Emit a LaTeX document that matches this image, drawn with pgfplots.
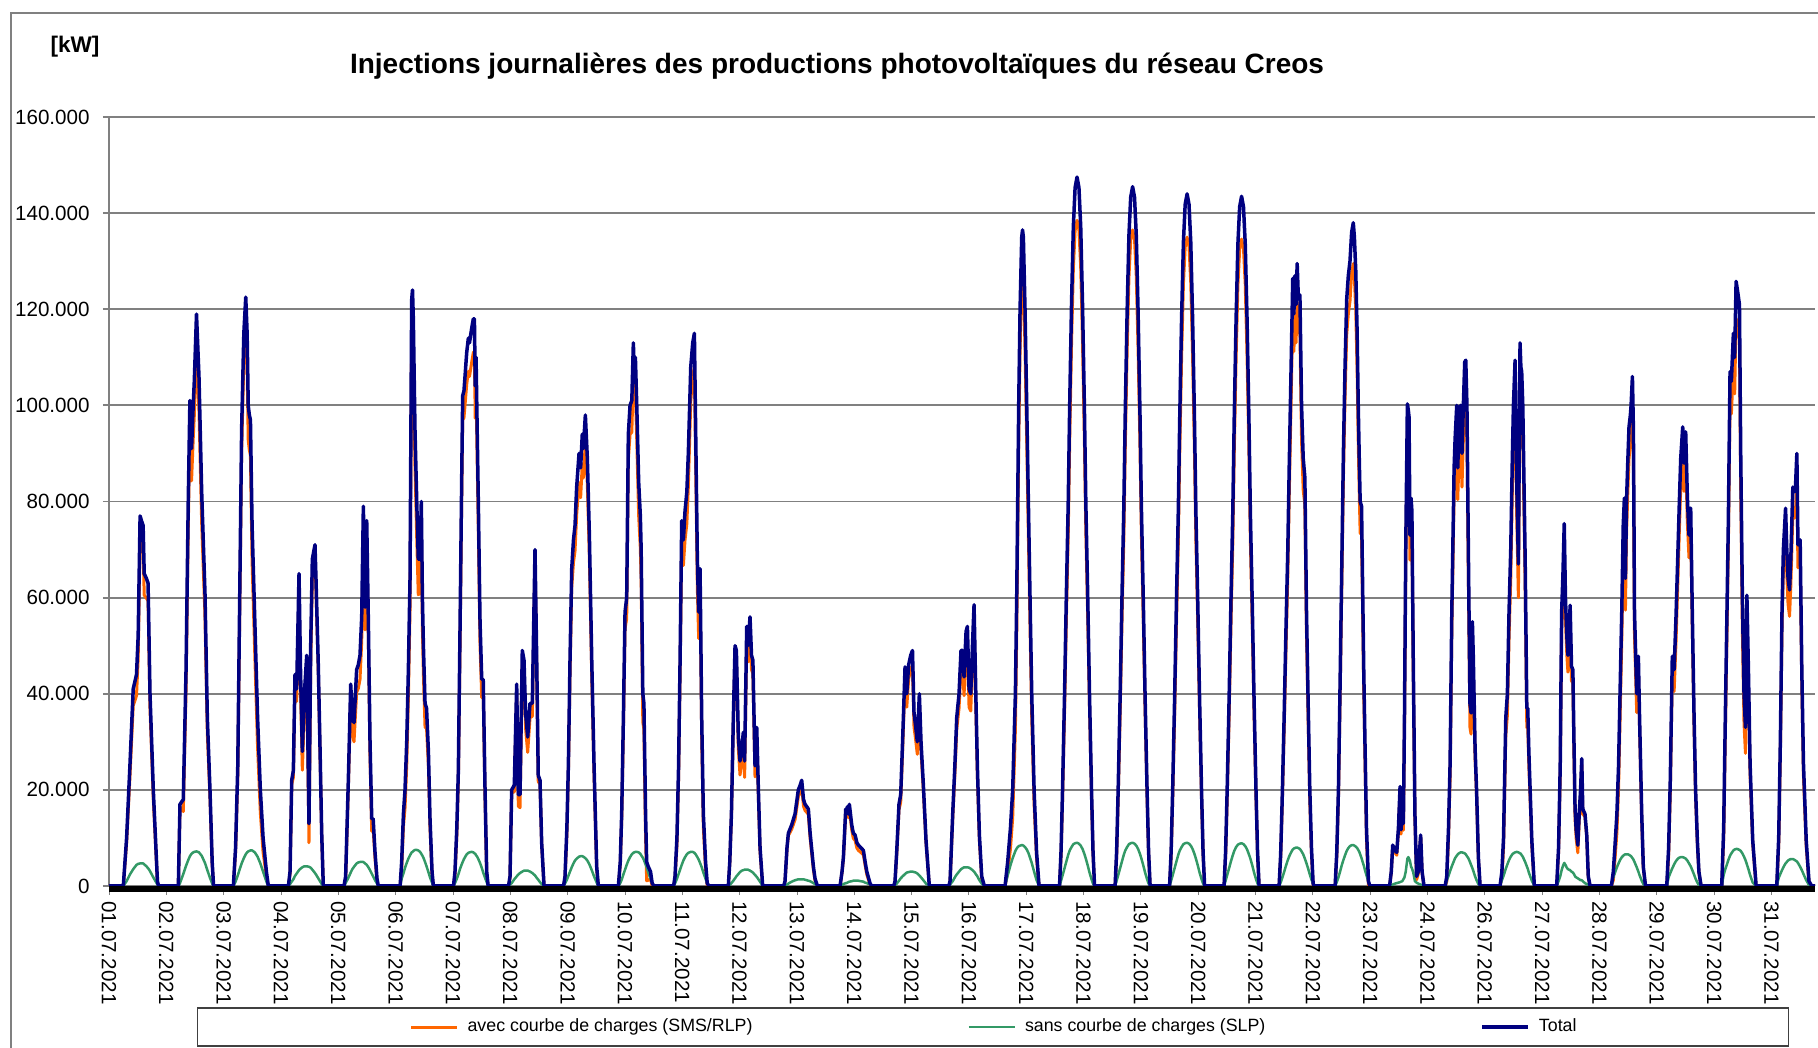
\documentclass[border=0pt]{standalone}
\usepackage{pgfplots}
\pgfplotsset{compat=1.18}
\usepackage{pgfplotstable}
\usepackage{fontspec}
\setmainfont{Liberation Sans}
\definecolor{cOrange}{RGB}{255,102,0}
\definecolor{cGreen}{RGB}{51,153,102}
\definecolor{cNavy}{RGB}{0,0,128}
\definecolor{cGrid}{RGB}{128,128,128}
\pgfplotstableread{
x T g a
0 0 0 0
0.26 0 0 0
0.32 10 1.0 9.0
0.38 25 2.4 22.6
0.44 41 3.5 37.5
0.50 44 4.4 39.6
0.53 52 4.6 47.4
0.565 77 4.7 72.3
0.59 76 4.7 71.3
0.62 75 4.7 70.3
0.64 65 4.5 60.5
0.68 64 4.1 59.9
0.71 63 3.7 59.3
0.745 40 3.1 36.9
0.805 20 1.8 18.2
0.88 1 0.3 0.7
0.90 0 0 0
1.26 0 0 0
1.29 17 0.6 16.4
1.35 18 2.5 15.5
1.40 45 4.2 40.8
1.44 80 5.4 74.6
1.47 101 6.2 94.8
1.50 91 6.7 84.3
1.53 100 7.0 93.0
1.55 105 7.1 97.9
1.59 119 7.2 111.8
1.635 106 7.0 99.0
1.684 82 6.3 75.7
1.744 61 4.8 56.2
1.787 35 3.3 31.7
1.835 20 1.7 18.3
1.875 5 0.5 4.5
1.90 0 0 0
2.26 0 0 0
2.30 8 0.9 7.1
2.34 25 2.2 22.8
2.37 55 3.3 51.7
2.41 95 4.7 90.3
2.45 115 5.8 109.2
2.485 122.5 6.6 115.9
2.51 115 7.0 108.0
2.53 100 7.2 92.8
2.55 98 7.3 90.7
2.57 97 7.4 89.6
2.60 75 7.4 67.6
2.65 55 7.0 48.0
2.70 35 6.1 28.9
2.75 20 4.7 15.3
2.80 10 3.0 7.0
2.86 3 0.9 2.1
2.895 0 0 0
3.26 0 0 0
3.29 3 0.4 2.6
3.32 22 0.9 21.1
3.35 24 1.4 22.6
3.38 44 2.1 41.9
3.41 41 2.6 38.4
3.453 65 3.3 61.7
3.48 45 3.6 41.4
3.513 28 3.9 24.1
3.55 40 4.1 35.9
3.593 48 4.1 43.9
3.634 13 4.0 9.0
3.665 50 3.8 46.2
3.695 68 3.4 64.6
3.743 71 2.7 68.3
3.761 64 2.4 61.6
3.803 46 1.6 44.4
3.834 29 1.0 28.0
3.865 11 0.4 10.6
3.894 0 0 0
4.27 0 0 0
4.30 2 0.6 1.4
4.349 22 1.7 20.3
4.392 42 2.8 39.2
4.422 35 3.5 31.5
4.452 34 4.0 30.0
4.50 45 4.7 40.3
4.53 46 4.9 41.1
4.561 48 5.0 43.0
4.592 56 5.0 51.0
4.622 79 5.0 74.0
4.652 58 4.7 53.3
4.683 76 4.4 71.6
4.713 55 3.9 51.1
4.743 30 3.3 26.7
4.774 14 2.6 11.4
4.80 14 2.0 12.0
4.834 7 1.2 5.8
4.87 1.5 0.5 1.0
4.894 0 0 0
5.29 0 0 0
5.318 5 1.5 3.5
5.35 15 2.6 12.4
5.379 20 3.8 16.2
5.41 30 4.8 25.2
5.44 45 5.7 39.3
5.47 64 6.4 57.6
5.50 122 7.0 115.0
5.515 124 7.1 116.9
5.53 118 7.3 110.7
5.56 95 7.5 87.5
5.592 80 7.5 72.5
5.62 68 7.4 60.6
5.652 68 7.1 60.9
5.675 80 6.7 73.3
5.695 60 6.3 53.7
5.713 50 5.9 44.1
5.743 38 5.0 33.0
5.77 37 4.1 32.9
5.804 28 2.9 25.1
5.833 14 1.8 12.2
5.87 3 0.7 2.3
5.894 0 0 0
6.26 0 0 0
6.287 3 0.6 2.4
6.32 12 1.5 10.5
6.348 24 2.4 21.6
6.38 55 3.6 51.4
6.409 85 4.5 80.5
6.427 102 5.0 97.0
6.45 103 5.6 97.4
6.469 106 6.0 100.0
6.50 111 6.6 104.4
6.53 114 6.9 107.1
6.55 113 7.0 106.0
6.59 116 7.1 108.9
6.62 118 7.0 111.0
6.64 118 6.8 111.2
6.655 104 6.7 97.3
6.67 110 6.4 103.6
6.69 95 6.1 88.9
6.711 80 5.6 74.4
6.742 55 4.8 50.2
6.773 43 3.8 39.2
6.80 43 2.8 40.2
6.833 20 1.7 18.3
6.863 3 0.8 2.2
6.89 0 0 0
7.26 0 0 0
7.287 2 0.3 1.7
7.317 20 0.6 19.4
7.365 21 1.4 19.6
7.408 42 2.0 40.0
7.438 19 2.4 16.6
7.469 19 2.7 16.3
7.51 49 3.0 46.0
7.541 47 3.2 43.8
7.57 36 3.2 32.8
7.608 31 3.2 27.8
7.65 38 3.0 35.0
7.692 38 2.7 35.3
7.741 70 2.2 67.8
7.772 47 1.7 45.3
7.80 23 1.3 21.7
7.832 22 0.8 21.2
7.862 9 0.4 8.6
7.905 0 0 0
8.26 0 0 0
8.286 2 0.5 1.5
8.32 12 1.3 10.7
8.347 25 2.1 22.9
8.377 47 3.0 44.0
8.408 66 3.9 62.1
8.44 72 4.7 67.3
8.468 75 5.3 69.7
8.498 83 5.7 77.3
8.541 90 6.1 83.9
8.57 87 6.2 80.8
8.60 94 6.2 87.8
8.619 91 6.1 84.9
8.656 98 5.8 92.2
8.692 89 5.3 83.7
8.729 73 4.5 68.5
8.772 47 3.3 43.7
8.814 25 2.0 23.0
8.862 4 0.7 3.3
8.892 0 0 0
9.256 0 0 0
9.29 5 0.6 4.4
9.316 15 1.3 13.7
9.347 35 2.4 32.6
9.377 57 3.4 53.6
9.407 60 4.4 55.6
9.437 94 5.3 88.7
9.468 100 6.0 94.0
9.50 101 6.6 94.4
9.528 113 6.9 106.1
9.545 107 7.0 100.0
9.565 110 7.1 102.9
9.59 100 7.1 92.9
9.625 84 7.0 77.0
9.655 77 6.7 70.3
9.67 70 6.4 63.6
9.70 40 5.9 34.1
9.72 38 5.4 32.6
9.75 15 4.5 10.5
9.77 5 3.9 1.1
9.80 4 2.8 1.2
9.84 3 1.5 1.5
9.87 0.6 0.6 0
9.90 0 0 0
10.26 0 0 0
10.285 2 0.5 1.5
10.32 10 1.5 8.5
10.35 25 2.5 22.5
10.377 47 3.4 43.6
10.407 76 4.4 71.6
10.437 72 5.3 66.7
10.467 78 6.0 72.0
10.50 82 6.6 75.4
10.527 90 6.9 83.1
10.571 108 7.1 100.9
10.607 113 7.1 105.9
10.637 115 6.9 108.1
10.66 95 6.6 88.4
10.691 68 6.0 62.0
10.715 57 5.5 51.5
10.74 66 4.8 61.2
10.77 35 3.9 31.1
10.80 15 2.8 12.2
10.84 5 1.5 3.5
10.87 0.6 0.6 0
10.90 0 0 0
11.254 0 0 0
11.28 5 0.2 4.8
11.31 15 0.6 14.4
11.345 35 1.1 33.9
11.376 50 1.6 48.4
11.40 49 2.0 47.0
11.436 31 2.5 28.5
11.466 26 2.9 23.1
11.50 29 3.2 25.8
11.527 32 3.3 28.7
11.55 26 3.4 22.6
11.588 54 3.4 50.6
11.61 50 3.4 46.6
11.648 56 3.2 52.8
11.675 48 3.0 45.0
11.70 47 2.8 44.2
11.739 25 2.3 22.7
11.77 33 1.9 31.1
11.80 20 1.4 18.6
11.83 8 0.9 7.1
11.878 0 0 0
12.26 0 0 0
12.284 1 0.1 0.9
12.32 8 0.3 7.7
12.345 11 0.5 10.5
12.405 12.7 0.9 11.8
12.466 15 1.2 13.8
12.526 20 1.4 18.6
12.56 21 1.4 19.6
12.587 22 1.4 20.6
12.62 18 1.4 16.6
12.648 17 1.3 15.7
12.68 16.5 1.2 15.3
12.708 16 1.1 14.9
12.74 11 1.0 10.0
12.77 7.5 0.8 6.7
12.80 4 0.6 3.4
12.83 1.5 0.4 1.1
12.87 0.1 0.1 0
12.89 0 0 0
13.284 0 0 0
13.32 3 0.2 2.8
13.345 6 0.4 5.6
13.387 16 0.6 15.4
13.40 15 0.6 14.4
13.417 16.5 0.7 15.8
13.435 15 0.8 14.2
13.453 17 0.9 16.1
13.496 12.7 1.0 11.7
13.525 11 1.1 9.9
13.557 10.6 1.1 9.5
13.59 9 1.1 7.9
13.618 8.5 1.1 7.4
13.66 8 1.0 7.0
13.708 7.4 0.9 6.5
13.74 5 0.7 4.3
13.77 3 0.6 2.4
13.83 0.5 0.3 0.2
13.86 0 0 0
14.26 0 0 0
14.283 1 0.2 0.8
14.313 7 0.5 6.5
14.355 17 1.1 15.9
14.386 19 1.6 17.4
14.42 30 2.0 28.0
14.465 45.6 2.5 43.1
14.496 40 2.8 37.2
14.53 46 2.9 43.1
14.568 48 3.0 45.0
14.60 49 3.0 46.0
14.628 36 2.9 33.1
14.66 33 2.8 30.2
14.688 30 2.6 27.4
14.725 40 2.2 37.8
14.755 30 1.8 28.2
14.798 21 1.2 19.8
14.846 9.5 0.5 9.0
14.906 0 0 0
15.26 0 0 0
15.283 1 0.3 0.7
15.331 15 1.0 14.0
15.37 25 1.8 23.2
15.404 35 2.4 32.6
15.446 40 3.0 37.0
15.482 49 3.5 45.5
15.51 49 3.7 45.3
15.537 43.5 3.9 39.6
15.574 53 3.9 49.1
15.598 54 3.9 50.1
15.628 41 3.8 37.2
15.659 40 3.6 36.4
15.69 50 3.3 46.7
15.719 58.5 3.0 55.5
15.749 41 2.5 38.5
15.779 25 2.0 23.0
15.816 10.6 1.2 9.4
15.858 2 0.5 1.5
15.906 0 0 0
16.282 0 0 0
16.33 5 2.2 2.8
16.38 12 4.3 7.7
16.421 20 5.8 14.2
16.47 40 7.3 32.7
16.494 60 7.8 52.2
16.512 80 8.1 71.9
16.53 100 8.3 91.7
16.555 120 8.4 111.6
16.585 135 8.5 126.5
16.60 136.5 8.5 128.0
16.615 135 8.4 126.6
16.645 120 8.1 111.9
16.676 100 7.6 92.4
16.706 80 6.9 73.1
16.736 60 5.9 54.1
16.767 40 4.8 35.2
16.81 20 3.0 17.0
16.855 7 1.2 5.8
16.90 0 0 0
17.272 0 0 0
17.30 7.4 1.1 6.3
17.327 20.1 2.2 17.9
17.363 39.8 3.7 36.1
17.396 60.5 5.1 55.4
17.43 79.7 6.5 73.2
17.457 100.3 7.4 92.9
17.49 121 8.1 112.9
17.523 137.2 8.7 128.5
17.555 145.3 8.9 136.4
17.59 147.5 9.0 138.5
17.625 145.3 8.8 136.5
17.657 137.2 8.4 128.8
17.69 121 7.7 113.3
17.723 100.3 6.7 93.6
17.75 79.7 5.7 74.0
17.784 60.5 4.3 56.2
17.817 39.8 2.8 37.0
17.853 20.1 1.4 18.7
17.88 7.4 0.5 6.9
17.908 0 0 0
18.282 0 0 0
18.31 7.3 1.1 6.2
18.337 19.8 2.2 17.6
18.373 39.3 3.7 35.6
18.406 59.7 5.1 54.6
18.44 78.6 6.5 72.1
18.467 98.9 7.4 91.5
18.50 119.3 8.1 111.2
18.533 135.3 8.7 126.6
18.565 143.3 8.9 134.4
18.60 145.5 9.0 136.5
18.635 143.3 8.8 134.5
18.667 135.3 8.4 126.9
18.70 119.3 7.7 111.6
18.733 98.9 6.7 92.2
18.76 78.6 5.7 72.9
18.794 59.7 4.3 55.4
18.827 39.3 2.8 36.5
18.863 19.8 1.4 18.4
18.89 7.3 0.5 6.8
18.918 0 0 0
19.272 0 0 0
19.30 7.2 1.1 6.1
19.327 19.6 2.2 17.4
19.363 38.9 3.7 35.2
19.396 59.0 5.1 53.9
19.43 77.8 6.5 71.3
19.457 97.9 7.4 90.5
19.49 118.1 8.1 110.0
19.523 133.9 8.7 125.2
19.555 141.8 8.9 132.9
19.59 144.0 9.0 135.0
19.625 141.8 8.8 133.0
19.657 133.9 8.4 125.5
19.69 118.1 7.7 110.4
19.723 97.9 6.7 91.2
19.75 77.8 5.7 72.1
19.784 59.0 4.3 54.7
19.817 38.9 2.8 36.1
19.853 19.6 1.4 18.2
19.88 7.2 0.5 6.7
19.908 0 0 0
20.262 0 0 0
20.29 7.2 1.1 6.1
20.317 19.5 2.2 17.3
20.353 38.7 3.7 35.0
20.386 58.8 5.1 53.7
20.42 77.5 6.4 71.1
20.447 97.6 7.3 90.3
20.48 117.7 8.1 109.6
20.513 133.5 8.6 124.9
20.545 141.3 8.8 132.5
20.58 143.5 8.9 134.6
20.615 141.3 8.7 132.6
20.647 133.5 8.3 125.2
20.68 117.7 7.6 110.1
20.713 97.6 6.6 91.0
20.74 77.5 5.7 71.8
20.774 58.8 4.3 54.5
20.807 38.7 2.8 35.9
20.843 19.5 1.4 18.1
20.87 7.2 0.5 6.7
20.898 0 0 0
21.262 0 0 0
21.29 6.5 0.7 5.8
21.317 17.6 1.6 16.0
21.353 35 2.9 32.1
21.386 53 4.2 48.8
21.42 70 5.4 64.6
21.447 88 6.2 81.8
21.48 108 7.0 101.0
21.51 126.4 7.6 118.8
21.53 119 7.8 111.2
21.55 127 7.9 119.1
21.57 121 8.0 113.0
21.59 129.5 8.0 121.5
21.61 123 7.9 115.1
21.64 123 7.7 115.3
21.67 100 7.2 92.8
21.70 89 6.6 82.4
21.73 85 5.7 79.3
21.76 57 4.7 52.3
21.79 38 3.6 34.4
21.82 20 2.4 17.6
21.85 8 1.3 6.7
21.88 0.5 0.5 0
21.90 0 0 0
22.28 0 0 0
22.31 7 0.8 6.2
22.34 20 1.8 18.2
22.37 42 3.0 39.0
22.40 66 4.3 61.7
22.43 90 5.4 84.6
22.46 108 6.4 101.6
22.49 122 7.3 114.7
22.52 127 7.9 119.1
22.55 130 8.3 121.7
22.58 136 8.5 127.5
22.61 138 8.5 129.5
22.63 135 8.4 126.6
22.655 128 8.2 119.8
22.68 115 7.9 107.1
22.70 100 7.5 92.5
22.72 88 7.1 80.9
22.735 80 6.6 73.4
22.76 79 5.8 73.2
22.78 62 5.0 57.0
22.80 45 4.3 40.7
22.825 28 3.2 24.8
22.85 12 2.2 9.8
22.885 1 0.9 0.1
22.91 0 0 0
23.27 0 0 0
23.30 3 0.2 2.8
23.327 8.5 0.3 8.2
23.369 7.4 0.5 6.9
23.40 7 0.6 6.4
23.43 12 0.7 11.3
23.46 20.7 0.8 19.9
23.478 11.7 0.9 10.8
23.50 16 1.0 15.0
23.52 13 1.4 11.6
23.54 35 1.8 33.2
23.563 70 3.0 67.0
23.593 100.3 5.7 94.6
23.61 99 6.0 93.0
23.623 97.6 5.7 91.9
23.64 73 5.2 67.8
23.66 80.7 4.0 76.7
23.675 78 3.7 74.3
23.70 46.7 2.8 43.9
23.73 15 1.0 14.0
23.76 2 0.7 1.3
23.79 3 0.5 2.5
23.834 10.6 0.3 10.3
23.86 3 0.2 2.8
23.895 0 0 0
24.28 0 0 0
24.308 2 1.1 0.9
24.34 12 2.1 9.9
24.369 25.5 3.1 22.4
24.40 57 4.1 52.9
24.442 87 5.3 81.7
24.46 93 5.8 87.2
24.49 100 6.3 93.7
24.508 87 6.6 80.4
24.53 95.5 6.8 88.7
24.56 100 7.0 93.0
24.585 90 7.0 83.0
24.61 100 6.9 93.1
24.635 109 6.8 102.2
24.654 109.4 6.6 102.8
24.675 100 6.2 93.8
24.70 71 5.8 65.2
24.73 38 5.0 33.0
24.75 36 4.4 31.6
24.774 55 3.7 51.3
24.79 48 3.2 44.8
24.823 28.7 2.0 26.7
24.85 20 1.2 18.8
24.883 6 0.4 5.6
24.914 0 0 0
25.277 0 0 0
25.31 3 1.2 1.8
25.34 10 2.1 7.9
25.381 35 3.6 31.4
25.41 40 4.5 35.5
25.44 57 5.4 51.6
25.471 70 6.1 63.9
25.50 89 6.6 82.4
25.52 100 6.8 93.2
25.55 109.4 7.0 102.4
25.58 84 7.1 76.9
25.61 67 7.0 60.0
25.64 113 6.8 106.2
25.655 108 6.7 101.3
25.67 107 6.4 100.6
25.69 100 6.1 93.9
25.733 68 5.0 63.0
25.763 37 4.1 32.9
25.78 37 3.6 33.4
25.80 28 2.8 25.2
25.854 9.5 1.1 8.4
25.90 0 0 0
26.306 0 0 0
26.34 8 1.0 7.0
26.37 25 2.0 23.0
26.396 57 3.3 53.7
26.42 65 4.2 60.8
26.443 75.4 4.8 70.6
26.465 60 4.4 55.6
26.49 52 3.8 48.2
26.51 48 3.5 44.5
26.53 51 3.4 47.6
26.55 58.4 3.3 55.1
26.575 45.7 3.0 42.7
26.60 45 2.8 42.2
26.62 30 2.5 27.5
26.64 16 2.0 14.0
26.66 11.7 1.8 9.9
26.69 8.5 1.6 6.9
26.715 15 1.4 13.6
26.74 20 1.2 18.8
26.761 26.5 1.2 25.3
26.78 16 1.0 15.0
26.82 15 0.6 14.4
26.852 10.6 0.4 10.2
26.88 2 0.2 1.8
26.913 0 0 0
27.30 0 0 0
27.335 3 1.8 1.2
27.366 8.5 2.8 5.7
27.40 15 3.9 11.1
27.43 25 4.7 20.3
27.457 40 5.4 34.6
27.49 58 6.0 52.0
27.515 75 6.3 68.7
27.536 80.7 6.5 74.2
27.555 64 6.6 57.4
27.575 80 6.6 73.4
27.597 88 6.6 81.4
27.62 95.5 6.5 89.0
27.645 98 6.3 91.7
27.658 100 6.2 93.8
27.682 106 5.8 100.2
27.70 95 5.5 89.5
27.72 57 5.0 52.0
27.76 40 3.9 36.1
27.79 47.8 3.0 44.8
27.81 36 2.3 33.7
27.851 15 1.1 13.9
27.88 4 0.4 3.6
27.92 0 0 0
28.306 0 0 0
28.34 8 1.8 6.2
28.37 22 2.7 19.3
28.407 47.8 3.7 44.1
28.44 45 4.5 40.5
28.474 56 5.2 50.8
28.51 70 5.7 64.3
28.535 80 5.9 74.1
28.56 89 6.0 83.0
28.596 95.5 6.0 89.5
28.62 88 5.9 82.1
28.65 94.5 5.7 88.8
28.68 81 5.3 75.7
28.71 73 4.7 68.3
28.741 78.6 4.1 74.5
28.77 57 3.3 53.7
28.801 36 2.4 33.6
28.83 20 1.5 18.5
28.862 9.5 0.7 8.8
28.89 3 0.2 2.8
28.93 0 0 0
29.305 0 0 0
29.34 12 2.3 9.7
29.37 35 3.5 31.5
29.40 57 4.5 52.5
29.425 76 5.4 70.6
29.456 107 6.3 100.7
29.48 105 6.8 98.2
29.517 115 7.4 107.6
29.54 110 7.6 102.4
29.566 125.8 7.7 118.1
29.59 124 7.7 116.3
29.627 121 7.5 113.5
29.65 90 7.3 82.7
29.68 60 6.8 53.2
29.71 40 6.1 33.9
29.736 33 5.4 27.6
29.762 60.5 4.5 56.0
29.79 45 3.5 41.5
29.82 25.5 2.3 23.2
29.868 9.5 0.7 8.8
29.93 0 0 0
30.305 0 0 0
30.34 10 1.7 8.3
30.37 30 2.5 27.5
30.40 57 3.3 53.7
30.425 70 3.9 66.1
30.444 74 4.3 69.7
30.465 78.6 4.7 73.9
30.487 70 5.0 65.0
30.51 64 5.3 58.7
30.537 61.6 5.5 56.1
30.56 68 5.6 62.4
30.597 83 5.6 77.4
30.62 82 5.5 76.5
30.645 83 5.3 77.7
30.67 90 5.1 84.9
30.69 71 4.8 66.2
30.73 72 4.0 68.0
30.76 45 3.3 41.7
30.79 25.5 2.5 23.0
30.84 9.5 1.2 8.3
30.89 1 0.2 0.8
30.94 0 0 0
31 0 0 0
}\data
\begin{document}
\begin{tikzpicture}
\useasboundingbox (0pt,0pt) rectangle (909pt,524pt);
\draw[line width=0.8pt, color=cGrid] (5.5pt,-10pt) -- (5.5pt,517.5pt) -- (930pt,517.5pt);
\node[anchor=base, font=\bfseries\fontsize{14}{16}\selectfont, inner sep=0pt] at (418.5pt,487pt) {Injections journalières des productions photovoltaïques du réseau Creos};
\node[anchor=base, font=\bfseries\fontsize{11.3}{13}\selectfont, inner sep=0pt] at (37.5pt,497.5pt) {[kW]};
\begin{axis}[
  at={(54.5pt,81pt)}, anchor=south west,
  width=853pt, height=384.5pt, scale only axis,
  xmin=0, xmax=31, ymin=0, ymax=160,
  axis x line*=bottom, axis y line*=left,
  ytick={0,20,...,160},
  yticklabels={0,20.000,40.000,60.000,80.000,100.000,120.000,140.000,160.000},
  xtick={0,1.04167,2.08333,3.125,4.16667,5.20833,6.25,7.29167,8.33333,9.375,10.41667,11.45833,12.5,13.54167,14.58333,15.625,16.66667,17.70833,18.75,19.79167,20.83333,21.875,22.91667,23.95833,25,26.04167,27.08333,28.125,29.16667,30.20833},
  xticklabels={01.07.2021,02.07.2021,03.07.2021,04.07.2021,05.07.2021,06.07.2021,07.07.2021,08.07.2021,09.07.2021,10.07.2021,11.07.2021,12.07.2021,13.07.2021,14.07.2021,15.07.2021,16.07.2021,17.07.2021,18.07.2021,19.07.2021,20.07.2021,21.07.2021,22.07.2021,23.07.2021,24.07.2021,26.07.2021,27.07.2021,28.07.2021,29.07.2021,30.07.2021,31.07.2021},
  minor x tick num=16,
  ymajorgrids,
  major grid style={cGrid, line width=0.9pt},
  y axis line style={cGrid, line width=0.9pt},
  x axis line style={black, line width=3pt, yshift=-1.5pt},
  tick align=outside,
  major tick length=3pt,
  ytick style={cGrid, line width=0.9pt},
  xtick style={cGrid, line width=0.4pt, /pgfplots/major tick length=4.5pt, /pgfplots/minor tick length=4.5pt},
  /pgf/number format/assume math mode=true,
  tick label style={font=\fontsize{10.3}{12}\selectfont},
  yticklabel style={anchor=east, inner sep=0pt},
  xticklabel style={rotate=-90, anchor=west, inner sep=0pt},
  yticklabel shift=6.5pt,
  xticklabel shift=4.5pt,
  legend style={at={(axis description cs:0.5182,-0.1834)}, anchor=center, draw=black!75, line width=0.7pt, fill=white, legend columns=3, font=\fontsize{8.9}{10}\selectfont, inner xsep=106pt, inner ysep=5.6pt, nodes={inner sep=0pt}, /tikz/every odd column/.append style={column sep=4.5pt}, /tikz/every even column/.append style={column sep=107.5pt}},
  legend image code/.code={\draw[#1] (0pt,0pt) -- (23pt,0pt);},
]
\addplot[cOrange, line width=1.5pt, line join=round] table[x=x,y=a]{\data};
\addlegendentry{avec courbe de charges (SMS/RLP)}
\addplot[cGreen, line width=1.25pt, line join=round] table[x=x,y=g]{\data};
\addlegendentry{sans courbe de charges (SLP)}
\addplot[cNavy, line width=1.75pt, line join=round] table[x=x,y=T]{\data};
\addlegendentry{Total}
\end{axis}
\end{tikzpicture}
\end{document}
